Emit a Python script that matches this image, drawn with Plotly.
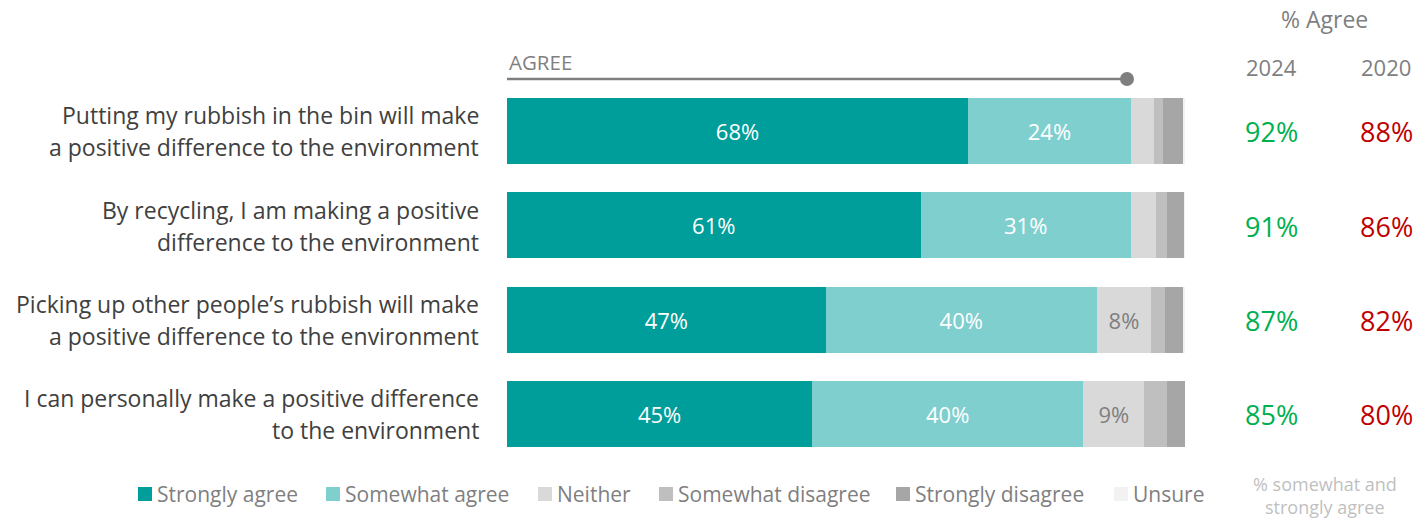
import plotly.graph_objects as go

# Statements (each label split over two lines)
statements = [
    "Putting my rubbish in the bin will make\na positive difference to the environment",
    "By recycling, I am making a positive\ndifference to the environment",
    "Picking up other people\u2019s rubbish will make\na positive difference to the environment",
    "I can personally make a positive difference\nto the environment",
]

# Response shares (%) per statement
strongly_agree = [68, 61, 47, 45]
somewhat_agree = [24, 31, 40, 40]
neither = [3.5, 3.7, 8, 9]
somewhat_disagree = [1.3, 1.6, 2.1, 3.4]
strongly_disagree = [3.0, 2.6, 2.7, 2.6]
unsure = [0.2, 0.1, 0.2, 0.0]

# Net agreement columns
agree_2024 = [92, 91, 87, 85]
agree_2020 = [88, 86, 82, 80]

series = [
    ("Strongly agree", strongly_agree, "#009E9A", "white"),
    ("Somewhat agree", somewhat_agree, "#80CFCF", "white"),
    ("Neither", neither, "#D9D9D9", "#7F7F7F"),
    ("Somewhat disagree", somewhat_disagree, "#BFBFBF", "#7F7F7F"),
    ("Strongly disagree", strongly_disagree, "#A6A6A6", "#7F7F7F"),
    ("Unsure", unsure, "#F2F2F2", "#7F7F7F"),
]

FONT = "Open Sans"
W, H = 1422, 522
rows = list(range(len(statements)))

fig = go.Figure()
for name, vals, color, tcol in series:
    labels = [f"{v:.0f}%" if v >= 5 else "" for v in vals]
    fig.add_trace(go.Bar(
        y=rows, x=vals, orientation="h", name=name,
        marker=dict(color=color, line=dict(width=0)),
        text=labels, textposition="inside", insidetextanchor="middle",
        textfont=dict(family=FONT, size=22, color=tcol),
        width=0.70, showlegend=False, hoverinfo="skip",
    ))

x0_px, x1_px = 507, 1185
top_px, bot_px = 83.8, 461.2
fig.update_layout(
    width=W, height=H, barmode="stack",
    margin=dict(l=0, r=0, t=0, b=0),
    paper_bgcolor="white", plot_bgcolor="white",
    xaxis=dict(range=[0, 100], domain=[x0_px / W, x1_px / W],
               visible=False, fixedrange=True),
    yaxis=dict(range=[3.5, -0.5], domain=[1 - bot_px / H, 1 - top_px / H],
               visible=False, fixedrange=True),
    uniformtext=dict(mode="show", minsize=8),
)

def px_to_paper_y(py):
    return 1 - py / H

row_centers = [131, 226, 320, 414]
annotations = []
for i, label in enumerate(statements):
    lines = label.split("\n")
    for j, line in enumerate(lines):
        annotations.append(dict(
            x=481 / W, y=px_to_paper_y(row_centers[i] - 16 + 32 * j),
            xref="paper", yref="paper", xanchor="right", yanchor="middle",
            text=line, showarrow=False,
            font=dict(family=FONT, size=23, color="#404040"),
        ))
    annotations.append(dict(
        x=1271 / W, y=px_to_paper_y(row_centers[i]), xref="paper", yref="paper",
        xanchor="center", yanchor="middle", text=f"{agree_2024[i]}%", showarrow=False,
        font=dict(family=FONT, size=27, color="#00B050"),
    ))
    annotations.append(dict(
        x=1386 / W, y=px_to_paper_y(row_centers[i]), xref="paper", yref="paper",
        xanchor="center", yanchor="middle", text=f"{agree_2020[i]}%", showarrow=False,
        font=dict(family=FONT, size=27, color="#C00000"),
    ))

# Column headings
for text, x, y, size in [("% Agree", 1324, 19, 23), ("2024", 1271, 67, 22), ("2020", 1386, 67, 22)]:
    annotations.append(dict(
        x=x / W, y=px_to_paper_y(y), xref="paper", yref="paper",
        xanchor="center", yanchor="middle", text=text, showarrow=False,
        font=dict(family=FONT, size=size, color="#7F7F7F"),
    ))

for text, y in [("% somewhat and", 484), ("strongly agree", 507)]:
    annotations.append(dict(
        x=1325 / W, y=px_to_paper_y(y), xref="paper", yref="paper",
        xanchor="center", yanchor="middle", text=text,
        showarrow=False, font=dict(family=FONT, size=18, color="#BFBFBF"),
    ))

# AGREE marker line
annotations.append(dict(
    x=507 / W, y=px_to_paper_y(62), xref="paper", yref="paper",
    xanchor="left", yanchor="middle", text="AGREE", showarrow=False,
    font=dict(family=FONT, size=20.5, color="#7F7F7F"),
))

shapes = [
    dict(type="line", xref="paper", yref="paper",
         x0=507 / W, x1=1127 / W, y0=px_to_paper_y(79), y1=px_to_paper_y(79),
         line=dict(color="#7F7F7F", width=2.5)),
    dict(type="circle", xref="paper", yref="paper",
         x0=1120 / W, x1=1134 / W, y0=px_to_paper_y(72), y1=px_to_paper_y(86),
         fillcolor="#7F7F7F", line=dict(width=0)),
]

# Legend drawn as swatches + text
legend_x = [138, 326, 538, 659, 896, 1114]
for (name, _, color, _), lx in zip(series, legend_x):
    shapes.append(dict(type="rect", xref="paper", yref="paper",
                       x0=lx / W, x1=(lx + 14) / W,
                       y0=px_to_paper_y(501), y1=px_to_paper_y(487),
                       fillcolor=color, line=dict(width=0)))
    annotations.append(dict(
        x=(lx + 17) / W, y=px_to_paper_y(494), xref="paper", yref="paper",
        xanchor="left", yanchor="middle", text=name, showarrow=False,
        font=dict(family=FONT, size=21, color="#7F7F7F"),
    ))

fig.update_layout(annotations=annotations, shapes=shapes)
fig.write_html("out.html")
